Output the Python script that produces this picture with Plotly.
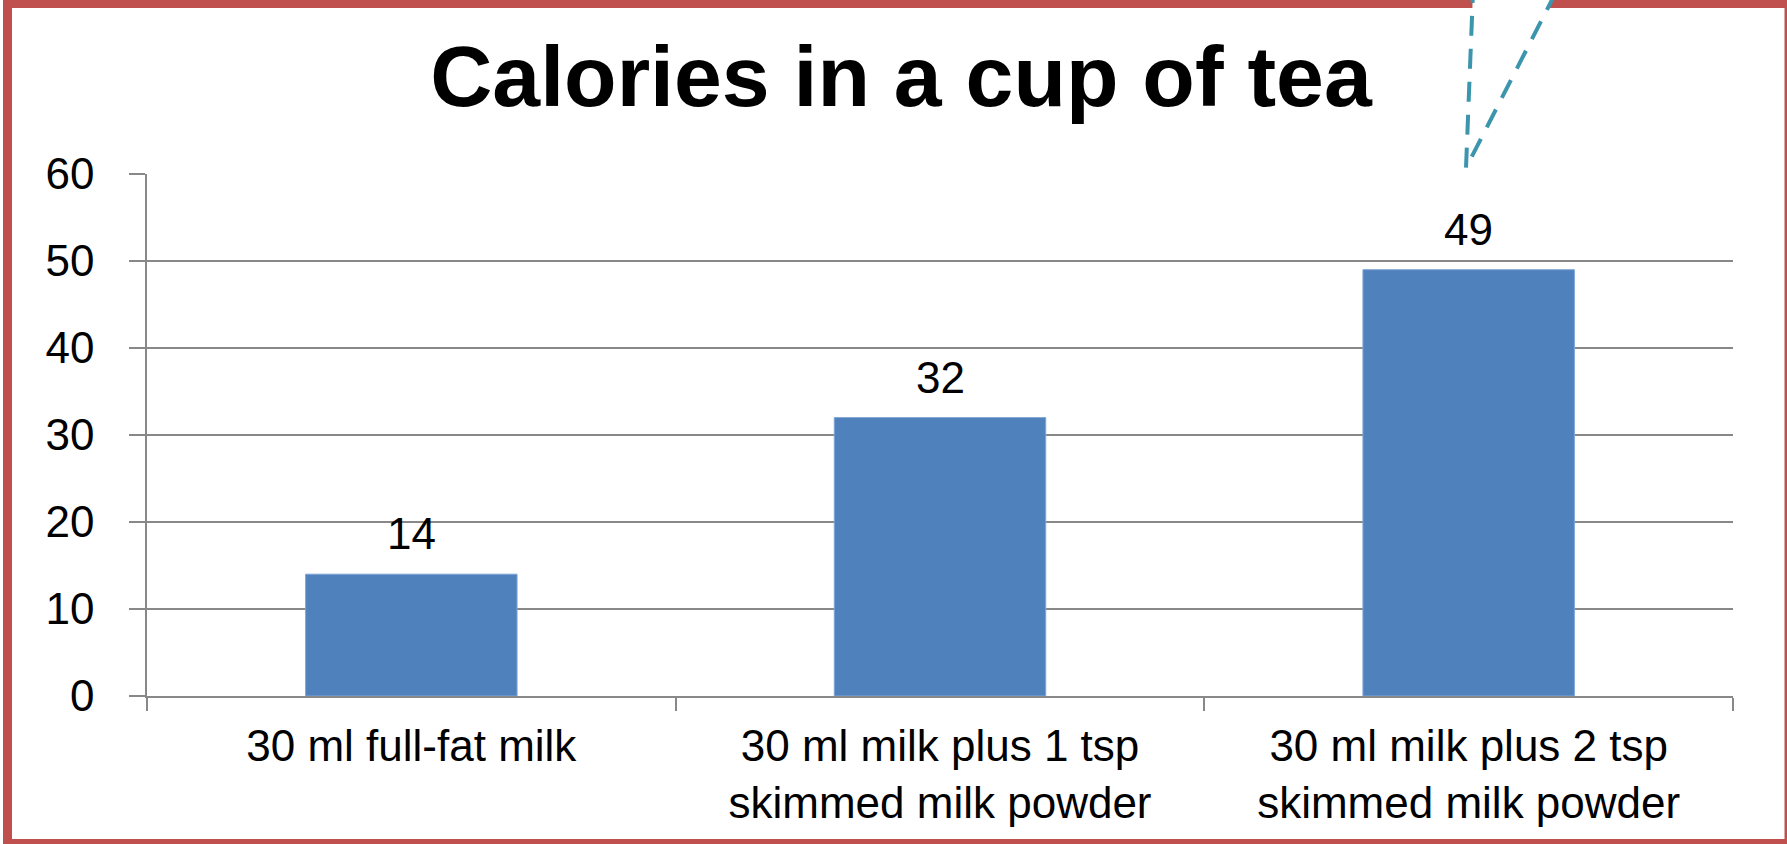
import plotly.graph_objects as go

# ---- data ----
categories = ["30 ml full-fat milk",
              "30 ml milk plus 1 tsp<br>skimmed milk powder",
              "30 ml milk plus 2 tsp<br>skimmed milk powder"]
calories = [14, 32, 49]
y_ticks = [0, 10, 20, 30, 40, 50, 60]
title_text = "Calories in a cup of tea"

W, H = 1787, 844
ML, MR, MT, MB = 147, 54, 174, 148
PW, PH = W - ML - MR, H - MT - MB

def px(x):
    return (x - ML) / PW

def py(y):
    return 1 - (y - MT) / PH

FONT = "Liberation Sans, Arial, sans-serif"
GRID = "#888888"
BAR = "#4F81BD"
RED = "#C0504D"
TEAL = "#3A95AD"

fig = go.Figure()
fig.add_trace(go.Bar(
    x=categories, y=calories,
    marker=dict(color=BAR, line=dict(color="#7FA6D6", width=1)),
    width=0.4, hoverinfo="x+y",
))

# data labels
for c, v in zip(categories, calories):
    fig.add_annotation(x=c, y=v, xref="x", yref="y", text=str(v),
                       showarrow=False, yanchor="bottom", yshift=14,
                       font=dict(family=FONT, size=44, color="#000000"))

fig.update_layout(
    width=W, height=H,
    margin=dict(l=ML, r=MR, t=MT, b=MB, autoexpand=False),
    paper_bgcolor="white", plot_bgcolor="white",
    showlegend=False,
    font=dict(family=FONT, color="#000000"),
    title=dict(text="<b>" + title_text + "</b>", x=901 / W, xanchor="center",
               xref="container", yref="container", y=1 - 76 / H, yanchor="middle",
               font=dict(family=FONT, size=86, color="#000000")),
    xaxis=dict(
        type="category", showgrid=False, showline=True, linecolor=GRID, linewidth=1.5,
        ticks="outside", tickson="boundaries", ticklen=13, tickcolor=GRID, tickwidth=1.5,
        tickfont=dict(family=FONT, size=44, color="#000000"), tickangle=0,
        ticklabelstandoff=10,
    ),
    yaxis=dict(
        range=[0, 60], tickvals=y_ticks, showgrid=True, gridcolor=GRID, gridwidth=1.5,
        showline=True, linecolor=GRID, linewidth=1.5, zeroline=False,
        ticks="outside", ticklen=16, tickcolor=GRID, tickwidth=1.5,
        tickfont=dict(family=FONT, size=44, color="#000000"),
        ticklabelstandoff=26,
    ),
    shapes=[
        # red frame
        dict(type="rect", xref="paper", yref="paper",
             x0=px(7.5), x1=px(1789), y0=py(843.5), y1=py(3.5),
             line=dict(color=RED, width=9), fillcolor="rgba(0,0,0,0)", layer="above"),
        # callout pointer (white filled, dashed teal edges)
        dict(type="path", xref="paper", yref="paper",
             path=f"M {px(1556)} {py(-8)} L {px(1466)} {py(168)} L {px(1473)} {py(-8)}",
             fillcolor="white", line=dict(color=TEAL, width=4, dash="20px,13px"),
             layer="above"),
    ],
)

fig.write_html("out.html")
